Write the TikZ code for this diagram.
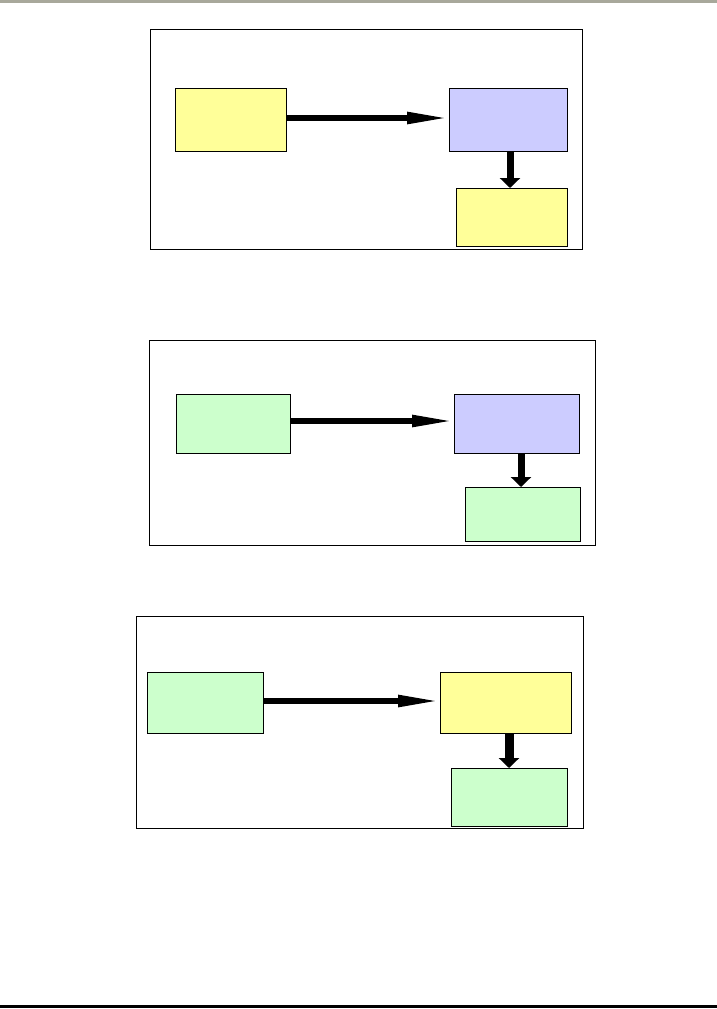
\documentclass[tikz,border=0pt]{standalone}
\usetikzlibrary{arrows.meta,calc}
\definecolor{topgray}{RGB}{168,168,155}
\definecolor{pyellow}{RGB}{255,255,153}
\definecolor{plav}{RGB}{204,204,255}
\definecolor{pgreen}{RGB}{204,255,204}
\begin{document}
\begin{tikzpicture}[x=1pt,y=-1pt,
  frame/.style={draw=black,line width=1pt},
  box/.style={draw=black,line width=1pt,inner sep=0pt,outer sep=0pt},
  harrow/.style={line width=5.5pt,-{Triangle[length=42pt,width=11pt]}},
  varrow/.style={line width=7pt,-{Triangle[length=10pt,width=20pt]}}]
\useasboundingbox (0,0) rectangle (717,1009);
\fill[white] (0,0) rectangle (717,1009);
% page rules
\fill[topgray] (0,0) rectangle (717,3);
\fill[black] (0,1004.5) rectangle (717,1007.5);
% panel 1
\draw[frame] (150,29) rectangle (582,249);
\node[box,fill=pyellow,minimum width=111pt,minimum height=63pt] (L1) at (230.5,119.5) {};
\node[box,fill=plav,minimum width=118pt,minimum height=63pt] (R1) at (508,119.5) {};
\node[box,fill=pyellow,minimum width=111pt,minimum height=58pt] (B1) at (511.5,217) {};
\coordinate (h1) at (0,118);
\coordinate (v1) at ($(R1.south)+(2,0)$);
\draw[harrow] (L1.east |- h1) -- (R1.west |- h1);
\draw[varrow] (v1) -- (v1 |- B1.north);
% panel 2
\draw[frame] (149,340) rectangle (595,545);
\node[box,fill=pgreen,minimum width=114pt,minimum height=59pt] (L2) at (233,423.5) {};
\node[box,fill=plav,minimum width=125pt,minimum height=59pt] (R2) at (516.5,423.5) {};
\node[box,fill=pgreen,minimum width=115pt,minimum height=54pt] (B2) at (522.5,514) {};
\coordinate (h2) at (0,421);
\coordinate (v2) at ($(R2.south)+(4.5,0)$);
\draw[harrow] (L2.east |- h2) -- (R2.west |- h2);
\draw[varrow] (v2) -- (v2 |- B2.north);
% panel 3
\draw[frame] (136,616) rectangle (583,828);
\node[box,fill=pgreen,minimum width=116pt,minimum height=61pt] (L3) at (205,702.5) {};
\node[box,fill=pyellow,minimum width=131pt,minimum height=61pt] (R3) at (505.5,702.5) {};
\node[box,fill=pgreen,minimum width=116pt,minimum height=58pt] (B3) at (509,797) {};
\coordinate (h3) at (0,701);
\coordinate (v3) at ($(R3.south)+(3.5,0)$);
\draw[harrow] (L3.east |- h3) -- (R3.west |- h3);
\draw[varrow,line width=9pt] (v3) -- (v3 |- B3.north);
\end{tikzpicture}
\end{document}
